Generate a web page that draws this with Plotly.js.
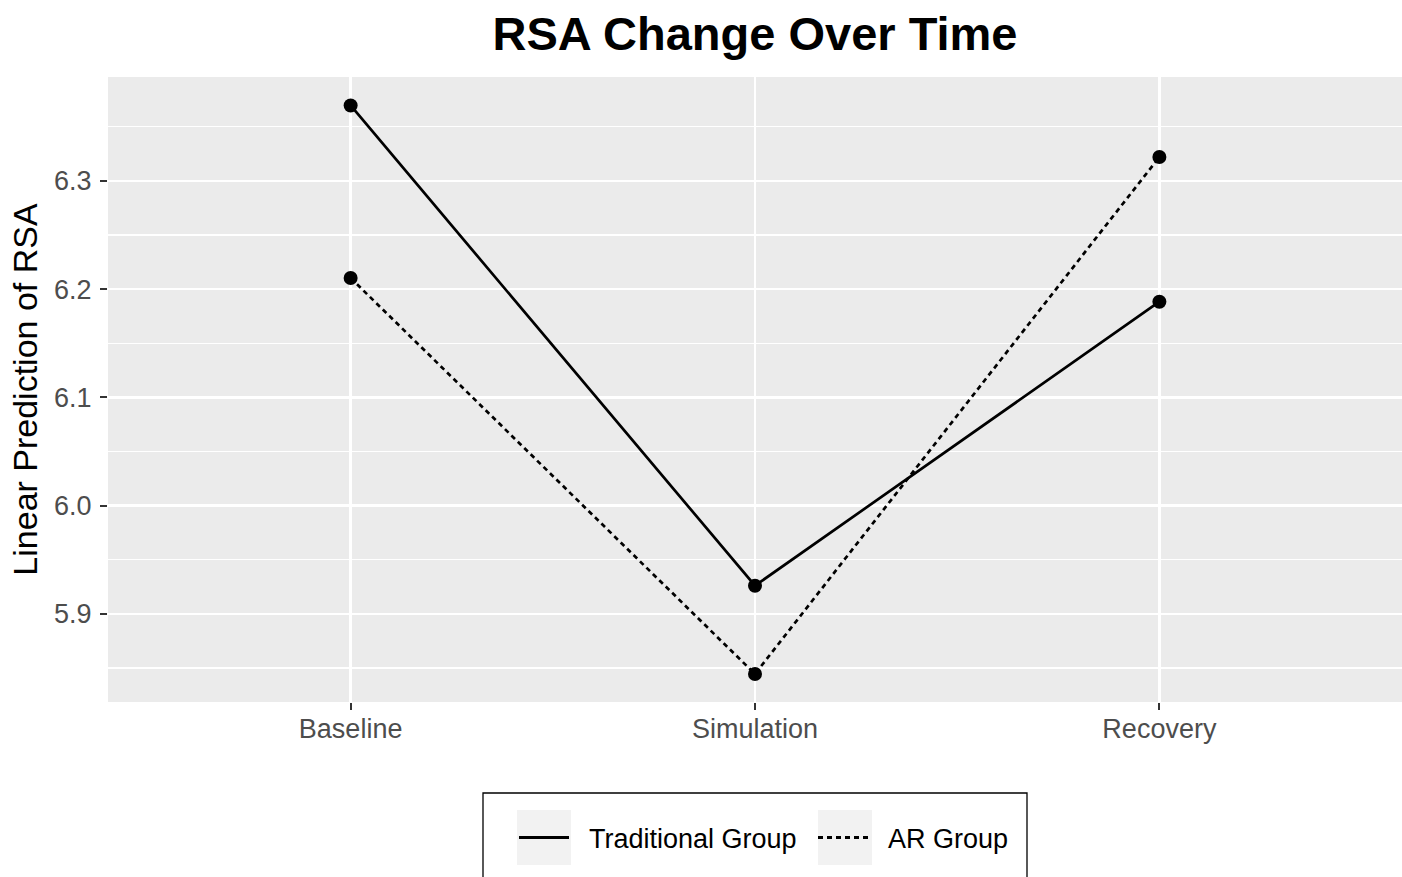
<!DOCTYPE html>
<html>
<head>
<meta charset="utf-8">
<script src="https://cdn.plot.ly/plotly-3.0.1.min.js"></script>
<style>html,body{margin:0;padding:0;background:#fff;}#chart{width:1402px;height:877px;}</style>
</head>
<body>
<div id="chart"></div>
<script>
const phases = ["Baseline", "Simulation", "Recovery"];
const traditionalGroup = [6.3695, 5.9261, 6.1883];
const arGroup = [6.2102, 5.8446, 6.3219];
const seriesNames = ["Traditional Group", "AR Group"];
const yTicks = [5.9, 6.0, 6.1, 6.2, 6.3];
const yTickLabels = ["5.9", "6.0", "6.1", "6.2", "6.3"];

const FONT = "Liberation Sans, Arial, Helvetica, sans-serif";
const NB = "\u00A0\u00A0";

const lineStyles = [
  {color: "#000000", width: 2.7, dash: "solid"},
  {color: "#000000", width: 2.7, dash: "5px,4px"}
];
const seriesData = [traditionalGroup, arGroup];

const traces = [];
seriesData.forEach((vals, i) => {
  traces.push({
    x: phases, y: vals, name: seriesNames[i],
    type: "scatter", mode: "lines+markers",
    line: lineStyles[i],
    marker: {color: "#000000", size: 14},
    showlegend: false
  });
});
seriesData.forEach((vals, i) => {
  traces.push({
    x: [null], y: [null], name: NB + seriesNames[i],
    type: "scatter", mode: "lines",
    line: Object.assign({}, lineStyles[i], {width: 3}),
    showlegend: true
  });
});

// legend decorations in paper coordinates (plot area: x 108..1402, y 77..702)
function px(x) { return (x - 108) / 1294; }
function py(y) { return (702 - y) / 625; }

const shapes = [
  {type: "rect", xref: "paper", yref: "paper", x0: px(483), x1: px(1027), y0: py(793), y1: py(895),
   line: {color: "#000000", width: 1.3}, fillcolor: "rgba(0,0,0,0)", layer: "below"},
  {type: "rect", xref: "paper", yref: "paper", x0: px(517), x1: px(571), y0: py(810), y1: py(865),
   line: {width: 0}, fillcolor: "#F2F2F2", layer: "below"},
  {type: "rect", xref: "paper", yref: "paper", x0: px(818), x1: px(872), y0: py(810), y1: py(865),
   line: {width: 0}, fillcolor: "#F2F2F2", layer: "below"}
];

const layout = {
  width: 1402, height: 877,
  paper_bgcolor: "#ffffff",
  plot_bgcolor: "#EBEBEB",
  margin: {l: 108, r: 0, t: 77, b: 175},
  font: {family: FONT, color: "#000000"},
  title: {
    text: "<b>RSA Change Over Time</b>",
    font: {family: FONT, size: 47, color: "#000000"},
    x: 0.5, xanchor: "center", xref: "paper",
    y: 0.962, yanchor: "middle"
  },
  xaxis: {
    type: "category",
    range: [-0.6, 2.6],
    showgrid: true, gridcolor: "#ffffff", gridwidth: 2.4,
    zeroline: false, showline: false,
    ticks: "outside", ticklen: 7, tickwidth: 2, tickcolor: "#333333",
    ticklabelstandoff: -4,
    tickfont: {family: FONT, size: 27, color: "#4D4D4D"}
  },
  yaxis: {
    range: [5.8187, 6.3958],
    tickvals: yTicks, ticktext: yTickLabels,
    showgrid: true, gridcolor: "#ffffff", gridwidth: 2.4,
    minor: {dtick: 0.05, tick0: 5.85, showgrid: true, gridcolor: "#ffffff", gridwidth: 1.2, ticks: ""},
    zeroline: false, showline: false,
    ticks: "outside", ticklen: 7, tickwidth: 2, tickcolor: "#333333",
    ticklabelstandoff: 3,
    tickfont: {family: FONT, size: 27, color: "#4D4D4D"},
    title: {text: "Linear Prediction of RSA", font: {family: FONT, size: 34, color: "#000000"}, standoff: 6}
  },
  legend: {
    orientation: "h",
    x: px(514), xanchor: "left", xref: "paper",
    y: py(838), yanchor: "middle", yref: "paper",
    bgcolor: "rgba(255,255,255,0)",
    borderwidth: 0,
    font: {family: FONT, size: 27, color: "#000000"},
    itemwidth: 50,
    entrywidth: 234, entrywidthmode: "pixels",
    traceorder: "normal"
  },
  shapes: shapes,
  showlegend: true
};

Plotly.newPlot("chart", traces, layout, {displayModeBar: false, staticPlot: true});
</script>
</body>
</html>
